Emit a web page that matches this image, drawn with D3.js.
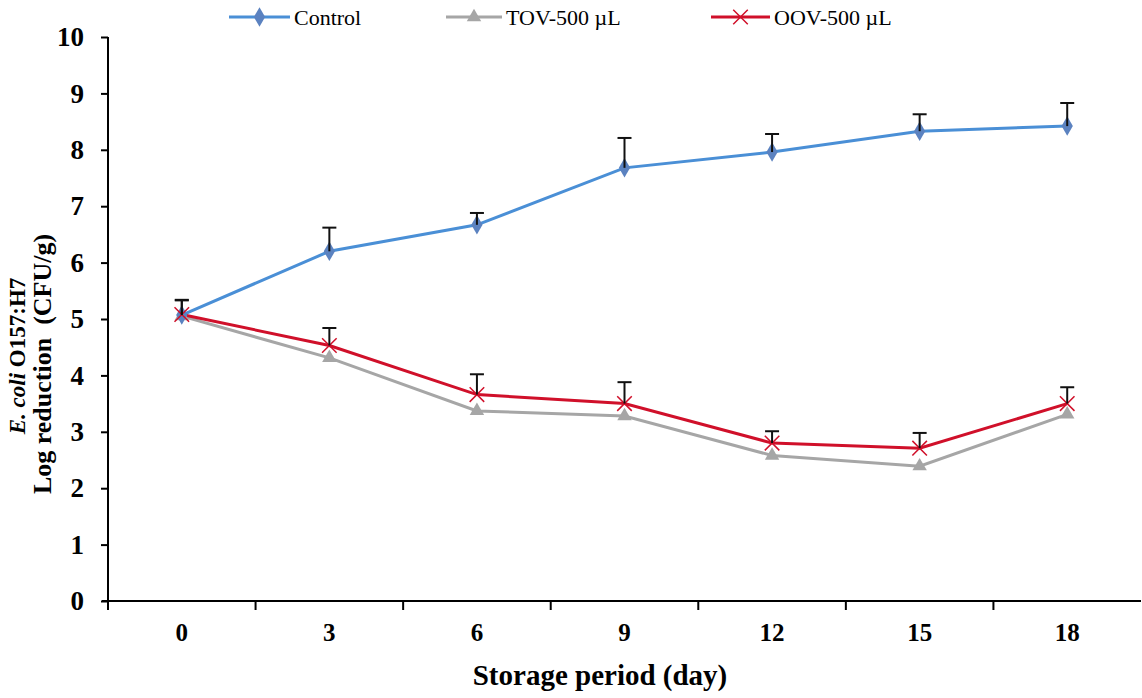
<!DOCTYPE html>
<html><head><meta charset="utf-8">
<script src="https://cdn.jsdelivr.net/npm/d3@7"></script>
<style>body{margin:0;background:#fff}svg{display:block}</style>
</head><body>
<svg id="c" width="1142" height="698"></svg>
<script>
const days = ["0","3","6","9","12","15","18"];
const yTicks = [0,1,2,3,4,5,6,7,8,9,10];
const controlVals = [5.07, 6.20, 6.67, 7.68, 7.96, 8.33, 8.42];
const controlErr  = [0.26, 0.42, 0.21, 0.53, 0.32, 0.30, 0.41];
const tovVals = [5.05, 4.31, 3.37, 3.28, 2.58, 2.39, 3.31];
const oovVals = [5.08, 4.53, 3.66, 3.50, 2.80, 2.71, 3.50];
const oovErr  = [0.26, 0.31, 0.36, 0.38, 0.21, 0.27, 0.29];
const seriesNames = ["Control", "TOV-500 µL", "OOV-500 µL"];

const svg = d3.select("#c");
const L = 108, R = 1141, T = 37, B = 601;
const x = d3.scaleBand().domain(days).range([L, R]);
const y = d3.scaleLinear().domain([0, 10]).range([B, T]);
const font = "'Liberation Serif','Times New Roman',serif";

// y axis
const ya = svg.append("g").attr("transform", `translate(${L},0)`)
  .call(d3.axisLeft(y).tickValues(yTicks).tickSize(7).tickPadding(17).tickFormat(d3.format("d")));
ya.select(".domain").attr("stroke", "#000").attr("stroke-width", 2).attr("d", `M0,${B}V${T}`);
ya.selectAll(".tick line").attr("stroke", "#000").attr("stroke-width", 2);
ya.selectAll(".tick text").attr("font-family", font).attr("font-weight", "bold").attr("font-size", 27).attr("fill", "#000");

// x axis
const xa = svg.append("g").attr("transform", `translate(0,${B})`)
  .call(d3.axisBottom(x).tickSize(0).tickPadding(22));
xa.select(".domain").attr("stroke", "#000").attr("stroke-width", 2).attr("d", `M${L-6},0H${R}`);
xa.selectAll(".tick text").attr("font-family", font).attr("font-weight", "bold").attr("font-size", 25).attr("fill", "#000");
xa.selectAll(".bt").data(days).enter().append("line")
  .attr("x1", d => x(d)).attr("x2", d => x(d)).attr("y1", 0).attr("y2", 9)
  .attr("stroke", "#000").attr("stroke-width", 2);

// axis titles
svg.append("text").attr("x", 600).attr("y", 685).attr("text-anchor", "middle")
  .attr("font-family", font).attr("font-weight", "bold").attr("font-size", 29).text("Storage period (day)");
const yt = svg.append("g").attr("transform", "translate(0,356) rotate(-90)");
const t1 = yt.append("text").attr("x", 0).attr("y", 25).attr("text-anchor", "middle")
  .attr("font-family", font).attr("font-weight", "bold").attr("font-size", 23);
t1.append("tspan").attr("font-style", "italic").text("E. coli");
t1.append("tspan").text(" O157:H7");
yt.append("text").attr("x", -8).attr("y", 51).attr("text-anchor", "middle")
  .attr("font-family", font).attr("font-weight", "bold").attr("font-size", 26).attr("xml:space","preserve")
  .text("Log reduction  (CFU/g)");

const cx = d => x(d) + x.bandwidth() / 2;
const line = d3.line().x((v, i) => cx(days[i])).y(v => y(v));

const colors = {c: "#4a8fd6", t: "#a6a6a6", o: "#d0102a"};

// lines
svg.append("path").datum(tovVals).attr("d", line).attr("fill", "none").attr("stroke", colors.t).attr("stroke-width", 3);
svg.append("path").datum(controlVals).attr("d", line).attr("fill", "none").attr("stroke", colors.c).attr("stroke-width", 3);
svg.append("path").datum(oovVals).attr("d", line).attr("fill", "none").attr("stroke", colors.o).attr("stroke-width", 3);

// markers
const diamond = d3.symbol().type(d3.symbolDiamond).size(110);
const tri = d3.symbol().type(d3.symbolTriangle).size(90);
const xs = d3.symbol().type(d3.symbolTimes).size(140);
svg.selectAll(".mt").data(tovVals).enter().append("path").attr("d", tri)
  .attr("transform", (v, i) => `translate(${cx(days[i])},${y(v)})`).attr("fill", colors.t);
svg.selectAll(".mc").data(controlVals).enter().append("path").attr("d", diamond)
  .attr("transform", (v, i) => `translate(${cx(days[i])},${y(v)})`).attr("fill", "#5b82c0");
svg.selectAll(".mo").data(oovVals).enter().append("path").attr("d", xs)
  .attr("transform", (v, i) => `translate(${cx(days[i])},${y(v)})`).attr("fill", "none")
  .attr("stroke", colors.o).attr("stroke-width", 1.5);

// error bars
function errBars(vals, errs) {
  const g = svg.append("g").attr("stroke", "#111").attr("stroke-width", 2);
  vals.forEach((v, i) => {
    const px = cx(days[i]);
    g.append("line").attr("x1", px).attr("x2", px).attr("y1", y(v)).attr("y2", y(v + errs[i]));
    g.append("line").attr("x1", px - 7).attr("x2", px + 7).attr("y1", y(v + errs[i])).attr("y2", y(v + errs[i]));
  });
}
errBars(controlVals, controlErr);
errBars(oovVals, oovErr);

// legend
const leg = [
  {name: seriesNames[0], col: colors.c, x0: 229, x1: 290, sym: diamond, fill: "#5b82c0"},
  {name: seriesNames[1], col: colors.t, x0: 446, x1: 502, sym: tri, fill: colors.t},
  {name: seriesNames[2], col: colors.o, x0: 711, x1: 770, sym: xs, fill: "none"}
];
const lg = svg.append("g");
leg.forEach(d => {
  lg.append("line").attr("x1", d.x0).attr("x2", d.x1).attr("y1", 17).attr("y2", 17)
    .attr("stroke", d.col).attr("stroke-width", 3);
  lg.append("path").attr("d", d.sym).attr("transform", `translate(${(d.x0 + d.x1) / 2},17)`)
    .attr("fill", d.fill).attr("stroke", d.fill === "none" ? d.col : null).attr("stroke-width", 1.5);
  lg.append("text").attr("x", d.x1 + 4).attr("y", 25).attr("font-family", font)
    .attr("font-size", 22).text(d.name);
});
</script>
</body></html>
